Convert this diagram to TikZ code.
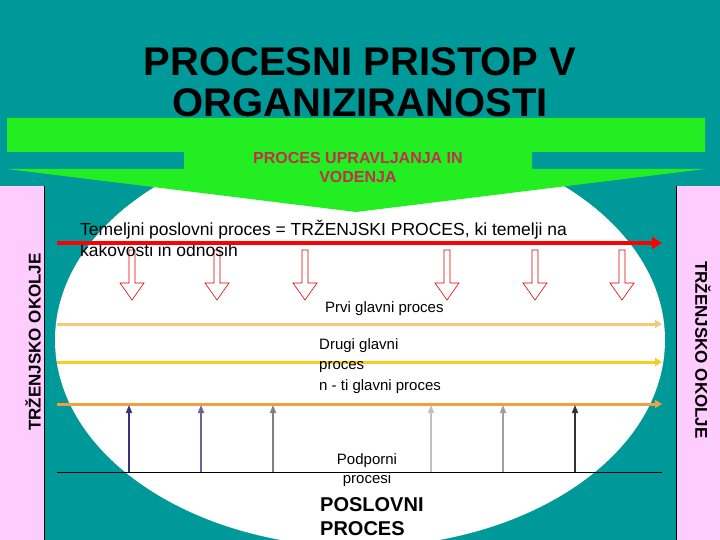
\documentclass[tikz,border=0pt]{standalone}
\usepackage{fontspec}
\setmainfont{Liberation Sans}
\usetikzlibrary{arrows.meta}
\definecolor{teal1}{HTML}{009999}
\definecolor{grn}{HTML}{22EE22}
\definecolor{pinkb}{HTML}{FFCCFF}
\definecolor{redt}{HTML}{C0304A}
\tikzset{
 lab/.style={font=\fontsize{15}{20}\selectfont, align=left, inner sep=0},
 proc/.style={line width=3pt,-{Triangle[length=7pt,width=8pt]}},
 sup/.style={line width=1.6pt,-{Triangle[length=8pt,width=6pt]}},
 hollow/.style={draw=red!85!black, fill=white, line width=0.6pt},
 side/.style={font=\bfseries\fontsize{17}{19}\selectfont, inner sep=0}
}
\begin{document}
\begin{tikzpicture}[x=1pt,y=-1pt]
\useasboundingbox (0,0) rectangle (720,540);
\fill[teal1] (0,0) rectangle (720,540);
% ellipse
\begin{scope}
\clip (0,0) rectangle (720,540);
\fill[white] (360,340) ellipse [x radius=305, y radius=207];
\end{scope}
% green block arrow
\fill[grn] (7,118) -- (705,118) -- (705,152) -- (532,152) -- (532,169) -- (705,169)
 -- (356,212) -- (7,169) -- (184,169) -- (184,152) -- (7,152) -- cycle;
\node[font=\bfseries\fontsize{40}{41}\selectfont, align=center] (title) at (360,82) {PROCESNI PRISTOP V\\ORGANIZIRANOSTI};
\node[font=\bfseries\fontsize{16}{19}\selectfont, text=redt, align=center] (upr) at (358,167) {PROCES UPRAVLJANJA IN\\VODENJA};
% side boxes
\fill[pinkb] (0,186) rectangle (44,540);
\fill[pinkb] (676,186) rectangle (720,540);
\draw[black,line width=0.4pt] (44,186) -- (44,540) (676,186) -- (676,540);
\node[side, rotate=90] (lside) at (33,342) {TRŽENJSKO OKOLJE};
\node[side, rotate=-90] (rside) at (703,350) {TRŽENJSKO OKOLJE};
% coordinates
\foreach \n/\y in {r/243,a/324,b/362,c/404,base/472}{
 \coordinate (\n0) at (57,\y); \coordinate (\n1) at (662,\y);}
% hollow down arrows
\foreach \x [count=\i] in {132,217,305,447,535,622}{
 \draw[hollow] (\x-3,250) -- (\x-3,283) -- (\x-12,283) -- (\x,300) -- (\x+12,283) -- (\x+3,283) -- (\x+3,250) -- cycle;}
\node[lab, anchor=west, font=\fontsize{17.5}{21}\selectfont] (tem) at (80,238) {Temeljni poslovni proces = TRŽENJSKI PROCES, ki temelji na\\kakovosti in odnosih};
\draw[red, line width=3.5pt, -{Triangle[length=10pt,width=12pt]}] (r0) -- (r1);
% main processes
\draw[proc, draw={rgb,255:red,248;green,200;blue,120}] (a0) -- (a1);
\draw[proc, draw={rgb,255:red,250;green,204;blue,32}] (b0) -- (b1);
\draw[proc, draw={rgb,255:red,240;green,160;blue,64}] (c0) -- (c1);
\node[lab, anchor=west] (p1) at (325,309) {Prvi glavni proces};
\node[lab, anchor=north west, font=\fontsize{15}{20.5}\selectfont] (p2) at (319,338) {Drugi glavni\\proces\\n - ti glavni proces};
% support
\draw[black, line width=0.6pt] (base0) -- (base1);
\foreach \x/\c in {129/{rgb,255:red,51;green,51;blue,127},201/{rgb,255:red,102;green,102;blue,153},273/{rgb,255:red,128;green,128;blue,128},431/{rgb,255:red,192;green,192;blue,192},503/{rgb,255:red,160;green,160;blue,160},575/{rgb,255:red,51;green,51;blue,51}}{
 \coordinate (s\x) at (\x,472);
 \draw[sup, draw=\c, fill=\c] (s\x) -- (\x,405);}
\node[lab, align=center, font=\fontsize{15}{19}\selectfont] (pod) at (367,470) {Podporni\\procesi};
\node[font=\bfseries\fontsize{20}{24}\selectfont, align=left, anchor=north west, inner sep=0] (pos) at (320,497) {POSLOVNI\\PROCES};
\end{tikzpicture}
\end{document}
